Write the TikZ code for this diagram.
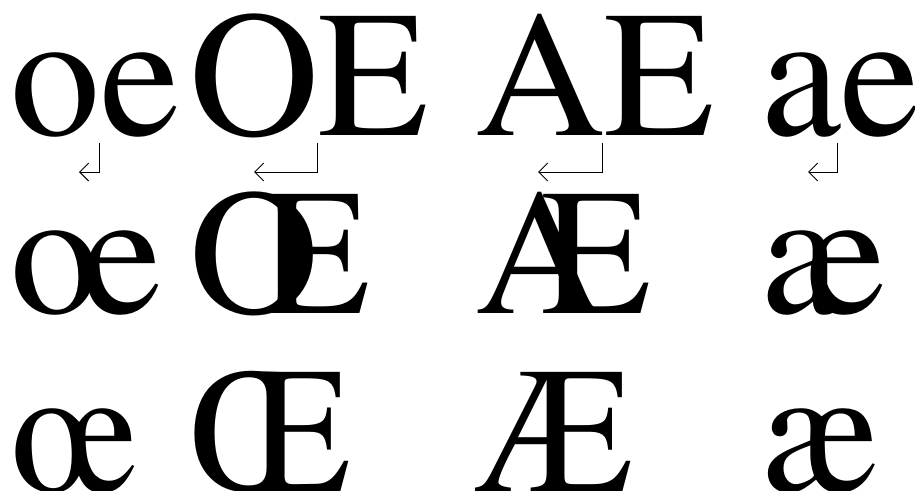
\documentclass[tikz,border=0pt]{standalone}
\usepackage{fontspec}
\setmainfont{TeX Gyre Termes}
\usetikzlibrary{arrows.meta}
\begin{document}
\begin{tikzpicture}[x=1pt,y=1pt,
  glyph/.style={anchor=base west,inner sep=0pt,outer sep=0pt,font=\fontsize{180}{180}\selectfont},
  shiftarrow/.style={line width=1pt,-{Straight Barb[length=9pt,width=18pt]}}]
\useasboundingbox (0,0) rectangle (915,-490);
% row 1
\node[glyph] (r1o) at (10.5,-135) {o};
\node[glyph] (r1e) at (r1o.base east) {e};
\node[glyph] (r1O) at (189,-135) {O};
\node[glyph] (r1E) at (r1O.base east) {E};
\node[glyph] (r1A) at (475,-135) {A};
\node[glyph] (r1AE) at (r1A.base east) {E};
\node[glyph] (r1a) at (761,-135) {a};
\node[glyph] (r1ae) at (r1a.base east) {e};
% arrows
\coordinate (s1) at (99.5,-143);  \coordinate (t1) at (79,-172);
\coordinate (s2) at (317,-143);   \coordinate (t2) at (254,-172);
\coordinate (s3) at (602,-143);   \coordinate (t3) at (538,-172);
\coordinate (s4) at (837,-143);   \coordinate (t4) at (808,-172);
\draw[shiftarrow] (s1) |- (t1);
\draw[shiftarrow] (s2) |- (t2);
\draw[shiftarrow] (s3) |- (t3);
\draw[shiftarrow] (s4) |- (t4);
% row 2
\node[glyph] (r2o) at (10.5,-313) {o};
\node[glyph] (r2e) at ([xshift=-18pt]r2o.base east) {e};
\node[glyph] (r2O) at (189,-313) {O};
\node[glyph] (r2E) at ([xshift=-58pt]r2O.base east) {E};
\node[glyph] (r2A) at (475,-313) {A};
\node[glyph] (r2AE) at ([xshift=-63pt]r2A.base east) {E};
\node[glyph] (r2a) at (761,-313) {a};
\node[glyph] (r2ae) at ([xshift=-34pt]r2a.base east) {e};
% row 3
\node[glyph] (r3oe) at (10.5,-491) {œ};
\node[glyph] (r3OE) at (189,-491) {Œ};
\node[glyph] (r3AE) at (475,-491) {Æ};
\node[glyph] (r3ae) at (761,-491) {æ};
\end{tikzpicture}
\end{document}
